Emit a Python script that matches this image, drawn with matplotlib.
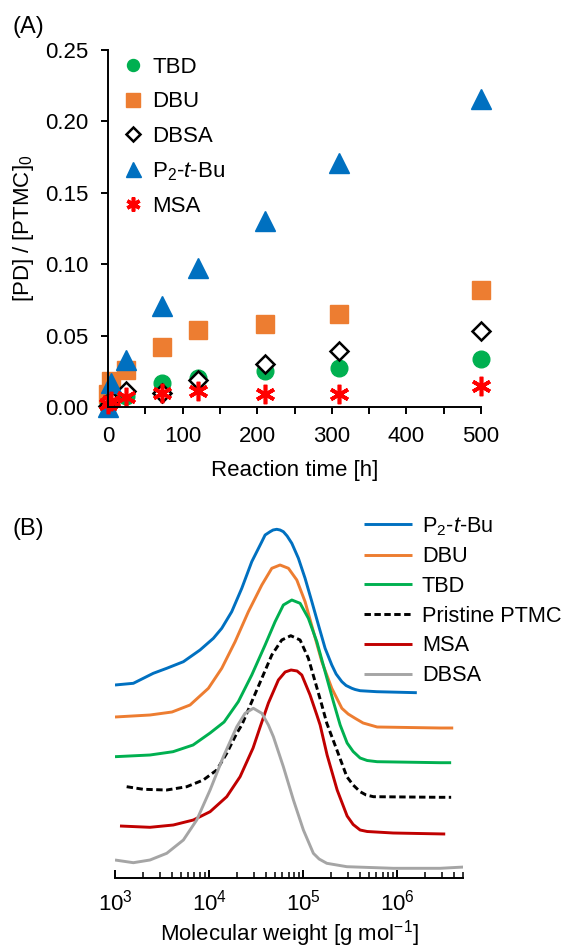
import matplotlib
matplotlib.use("Agg")
import matplotlib.pyplot as plt
import numpy as np
from matplotlib.ticker import FormatStrFormatter, MultipleLocator, LogLocator, NullFormatter

plt.rcParams['font.family'] = ['Liberation Sans', 'DejaVu Sans']
plt.rcParams['mathtext.fontset'] = 'custom'
plt.rcParams['mathtext.rm'] = 'Liberation Sans'
plt.rcParams['mathtext.it'] = 'Liberation Sans:italic'

# ---- panel A data: [PD]/[PTMC]0 vs reaction time ----
time_h = [0, 4, 24, 72, 120, 210, 310, 500]
tbd = [0.001, 0.004, 0.008, 0.017, 0.020, 0.025, 0.027, 0.0335]
dbu = [0.009, 0.018, 0.026, 0.042, 0.054, 0.058, 0.065, 0.082]
dbsa = [0.001, 0.005, 0.011, 0.010, 0.019, 0.030, 0.039, 0.053]
p2tbu = [0.000, 0.017, 0.033, 0.071, 0.097, 0.130, 0.171, 0.216]
msa = [0.002, 0.004, 0.007, 0.010, 0.011, 0.009, 0.009, 0.0145]

# ---- panel B data: SEC traces (log10 M, offset intensity) ----
p2_logm = [3.000, 3.195, 3.301, 3.407, 3.550, 3.727, 3.904, 4.046, 4.135, 4.241, 4.348,
           4.454, 4.561, 4.596, 4.649, 4.681, 4.720, 4.755, 4.790, 4.830, 4.880, 4.950,
           5.021, 5.093, 5.163, 5.234, 5.305, 5.351, 5.412, 5.457, 5.518, 5.553, 5.606,
           5.784, 6.209]
p2_int = [1.93, 1.947, 1.997, 2.047, 2.097, 2.163, 2.28, 2.397, 2.497, 2.663, 2.897,
          3.163, 3.363, 3.43, 3.463, 3.48, 3.487, 3.48, 3.463, 3.42, 3.347, 3.197,
          2.997, 2.763, 2.53, 2.297, 2.13, 2.04, 1.963, 1.925, 1.897, 1.885, 1.873,
          1.863, 1.853]
dbu_logm = [3.000, 3.372, 3.606, 3.798, 3.993, 4.135, 4.277, 4.418, 4.561, 4.667,
            4.755, 4.844, 4.933, 5.021, 5.110, 5.199, 5.305, 5.412, 5.479, 5.553, 5.638,
            5.787, 6.457, 6.596]
dbu_int = [1.61, 1.63, 1.66, 1.73, 1.897, 2.097, 2.363, 2.663, 2.93, 3.097,
           3.13, 3.097, 2.98, 2.763, 2.463, 2.163, 1.897, 1.697, 1.64, 1.597, 1.55,
           1.51, 1.50, 1.50]
tbd_logm = [3.000, 3.372, 3.617, 3.830, 4.011, 4.160, 4.311, 4.454, 4.596, 4.702, 4.790,
            4.880, 4.968, 5.056, 5.146, 5.234, 5.322, 5.394, 5.468, 5.532, 5.606, 5.681,
            5.787, 6.457, 6.574]
tbd_int = [1.213, 1.23, 1.263, 1.33, 1.45, 1.56, 1.763, 2.03, 2.33, 2.563, 2.73,
           2.78, 2.747, 2.597, 2.363, 2.063, 1.763, 1.53, 1.35, 1.265, 1.20, 1.175,
           1.163, 1.153, 1.153]
pr_logm = [3.124, 3.301, 3.550, 3.763, 3.939, 4.082, 4.188, 4.294, 4.348, 4.454, 4.561,
           4.667, 4.773, 4.869, 4.968, 5.056, 5.128, 5.199, 5.252, 5.359, 5.465, 5.532,
           5.606, 5.670, 5.748, 6.457, 6.574]
pr_int = [0.913, 0.887, 0.88, 0.913, 0.98, 1.08, 1.247, 1.447, 1.53, 1.763, 1.997,
          2.23, 2.38, 2.423, 2.38, 2.197, 1.963, 1.73, 1.547, 1.28, 1.013, 0.93,
          0.863, 0.83, 0.813, 0.807, 0.807]
msa_logm = [3.053, 3.372, 3.620, 3.833, 4.011, 4.188, 4.330, 4.468, 4.543, 4.631, 4.737,
            4.809, 4.872, 4.936, 4.986, 5.074, 5.146, 5.181, 5.255, 5.362, 5.468, 5.532,
            5.606, 5.681, 5.957, 6.511]
msa_int = [0.52, 0.507, 0.53, 0.58, 0.663, 0.813, 1.013, 1.30, 1.51, 1.75, 1.98,
           2.06, 2.08, 2.07, 2.03, 1.83, 1.63, 1.53, 1.23, 0.88, 0.62, 0.535,
           0.48, 0.465, 0.45, 0.44]
dbsa_logm = [3.000, 3.195, 3.372, 3.550, 3.727, 3.869, 4.011, 4.152, 4.295, 4.383, 4.471,
             4.561, 4.631, 4.684, 4.790, 4.897, 5.003, 5.109, 5.170, 5.252, 5.465, 5.960,
             6.457, 6.713]
dbsa_int = [0.18, 0.153, 0.18, 0.247, 0.38, 0.58, 0.88, 1.213, 1.513, 1.647, 1.697,
            1.647, 1.53, 1.413, 1.113, 0.78, 0.48, 0.247, 0.19, 0.147, 0.113, 0.097,
            0.097, 0.11]

blue = '#0070C0'
orange = '#ED7D31'
green = '#00B050'
darkred = '#C00000'
grey = '#A5A5A5'

fs = 16

fig = plt.figure(figsize=(5.65, 9.48), dpi=100)

# ================= panel A =================
axA = fig.add_axes([108 / 565, 1 - 407 / 948, 373 / 565, 357 / 948])
hD = axA.plot(time_h, dbu, ls='none', marker='s', ms=13.5, color=orange, mec=orange, label='DBU')[0]
hT = axA.plot(time_h, tbd, ls='none', marker='o', ms=12, color=green, mec=green, label='TBD')[0]
hS = axA.plot(time_h, dbsa, ls='none', marker='D', ms=9.3, mfc='white', mec='black', mew=1.8,
              label='DBSA')[0]
hP = axA.plot(time_h, p2tbu, ls='none', marker='^', ms=15, color=blue, mec=blue,
              label='P$_2$-$t$-Bu')[0]
hM = axA.plot(time_h, msa, ls='none', marker=(6, 2, 0), ms=14, mec='#FF0000', mew=2.6,
              label='MSA')[0]
for h in (hD, hT, hS, hP, hM):
    h.set_clip_on(False)

axA.set_xlim(0, 500)
axA.set_ylim(0, 0.25)
axA.xaxis.set_major_locator(MultipleLocator(100))
axA.xaxis.set_minor_locator(MultipleLocator(50))
axA.yaxis.set_major_locator(MultipleLocator(0.05))
axA.yaxis.set_major_formatter(FormatStrFormatter('%.2f'))
for s in ('top', 'right'):
    axA.spines[s].set_visible(False)
for s in ('left', 'bottom'):
    axA.spines[s].set_linewidth(1.4)
axA.tick_params(which='both', direction='out', length=5, width=1.4, labelsize=fs, pad=9)
axA.set_xlabel('Reaction time [h]', fontsize=fs, labelpad=9)
fig.text(24 / 565, 1 - 228 / 948, '[PD] / [PTMC]$_0$', fontsize=fs, rotation=90,
         ha='center', va='center')

axA.legend(handles=[hT, hD, hS, hP, hM], loc='upper left', frameon=False,
           bbox_to_anchor=(125 / 565, 1 - 57 / 948), bbox_transform=fig.transFigure,
           fontsize=fs, handlelength=0.75, handletextpad=0.47, labelspacing=0.6,
           markerscale=0.72, borderpad=0, borderaxespad=0)

fig.text(13 / 565, 1 - 27 / 948, '(A)', fontsize=17, va='center', ha='left')

# ================= panel B =================
axB = fig.add_axes([115 / 565, 1 - 878 / 948, 348 / 565, 368 / 948])
kw = dict(lw=2.1, solid_joinstyle='round', solid_capstyle='butt')
axB.plot(10 ** np.array(p2_logm), p2_int, color=blue, label='P$_2$-$t$-Bu', **kw)
axB.plot(10 ** np.array(dbu_logm), dbu_int, color=orange, label='DBU', **kw)
axB.plot(10 ** np.array(tbd_logm), tbd_int, color=green, label='TBD', **kw)
axB.plot(10 ** np.array(pr_logm), pr_int, color='black', lw=2.1, ls=(0, (2.2, 1.2)),
         label='Pristine PTMC')
axB.plot(10 ** np.array(msa_logm), msa_int, color=darkred, label='MSA', **kw)
axB.plot(10 ** np.array(dbsa_logm), dbsa_int, color=grey, label='DBSA', **kw)

axB.set_xscale('log')
axB.set_xlim(1e3, 10 ** 6.70)
axB.set_ylim(0, 3.68)
axB.set_yticks([])
for s in ('top', 'right', 'left'):
    axB.spines[s].set_visible(False)
axB.spines['bottom'].set_linewidth(1.4)
axB.xaxis.set_major_locator(LogLocator(base=10, numticks=10))
axB.xaxis.set_minor_locator(LogLocator(base=10, subs=np.arange(2, 10), numticks=10))
axB.xaxis.set_minor_formatter(NullFormatter())
axB.tick_params(which='major', direction='in', length=6, width=1.4, labelsize=16, pad=8)
axB.tick_params(which='minor', direction='in', length=4, width=1.1)
axB.set_xlabel('Molecular weight [g mol$^{-1}$]', fontsize=fs, labelpad=2)

axB.legend(loc='upper left', frameon=False,
           bbox_to_anchor=(364 / 565, 1 - 515 / 948), bbox_transform=fig.transFigure,
           fontsize=15.7, handlelength=2.2, handletextpad=0.45, labelspacing=0.4,
           borderpad=0, borderaxespad=0)

fig.text(13 / 565, 1 - 529 / 948, '(B)', fontsize=17, va='center', ha='left')

fig.savefig('out.png', dpi=100)
